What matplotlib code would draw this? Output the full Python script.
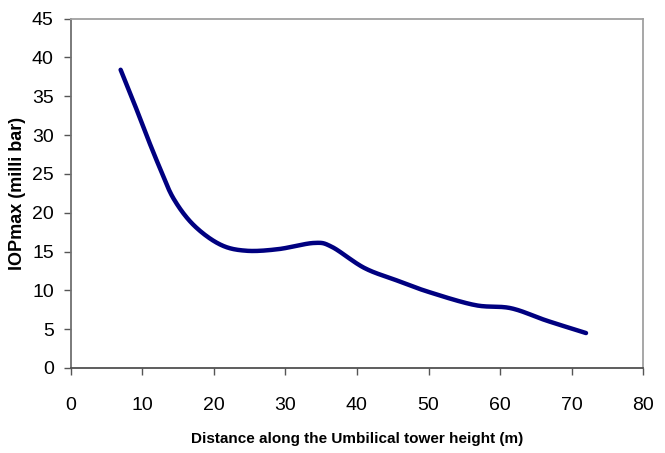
import numpy as np
import matplotlib
matplotlib.use("Agg")
import matplotlib.pyplot as plt

# Data
distance = [7, 8.8, 10.6, 12.5, 14.4, 17.2, 20.9, 24.5, 29, 34, 36.5, 41, 45.5, 50, 56.5, 61.5, 66.5, 72]
iop_max = [38.4, 34.3, 30.0, 25.7, 21.8, 18.4, 15.9, 15.1, 15.3, 16.1, 15.6, 12.9, 11.3, 9.8, 8.1, 7.7, 6.1, 4.5]

x_ticks = [0, 10, 20, 30, 40, 50, 60, 70, 80]
y_ticks = [0, 5, 10, 15, 20, 25, 30, 35, 40, 45]

font = 'Liberation Sans'

def catmull_rom(xs, ys, n=30):
    xs = np.asarray(xs, float); ys = np.asarray(ys, float)
    P = np.column_stack([xs, ys])
    P = np.vstack([2 * P[0] - P[1], P, 2 * P[-1] - P[-2]])
    out = []
    t = np.linspace(0, 1, n, endpoint=False)[:, None]
    for i in range(1, len(P) - 2):
        p0, p1, p2, p3 = P[i - 1], P[i], P[i + 1], P[i + 2]
        seg = 0.5 * ((2 * p1) + (-p0 + p2) * t + (2 * p0 - 5 * p1 + 4 * p2 - p3) * t ** 2
                     + (-p0 + 3 * p1 - 3 * p2 + p3) * t ** 3)
        out.append(seg)
    out.append(P[-2][None, :])
    out = np.vstack(out)
    return out[:, 0], out[:, 1]

sx, sy = catmull_rom(distance, iop_max)

fig = plt.figure(figsize=(6.65, 4.53), dpi=100)
ax = fig.add_axes([70.5 / 665, 1 - 368 / 453, (643.3 - 70.5) / 665, (368 - 18.5) / 453])

ax.plot(sx, sy, color='#000080', linewidth=3.2, solid_capstyle='round', solid_joinstyle='round')

ax.set_xlim(0, 80)
ax.set_ylim(0, 45)
ax.set_xticks(x_ticks)
ax.set_yticks(y_ticks)
ax.tick_params(direction='out', length=5, width=1, color='#555555', labelsize=14)
ax.tick_params(axis='x', pad=16)
ax.tick_params(axis='y', pad=7)
for lab in ax.get_xticklabels() + ax.get_yticklabels():
    lab.set_fontfamily(font)

ax.spines['left'].set_color('#707070')
ax.spines['bottom'].set_color('#505050')
ax.spines['top'].set_color('#a0a0a0')
ax.spines['right'].set_color('#a0a0a0')
for s in ax.spines.values():
    s.set_linewidth(1.3)

ax.set_xlabel('Distance along the Umbilical tower height (m)', fontsize=11,
              fontweight='bold', fontfamily=font, labelpad=13)
ax.set_ylabel('IOPmax (milli bar)', fontsize=13, fontweight='bold',
              fontfamily=font, labelpad=4)

fig.savefig('out.png', dpi=100)
